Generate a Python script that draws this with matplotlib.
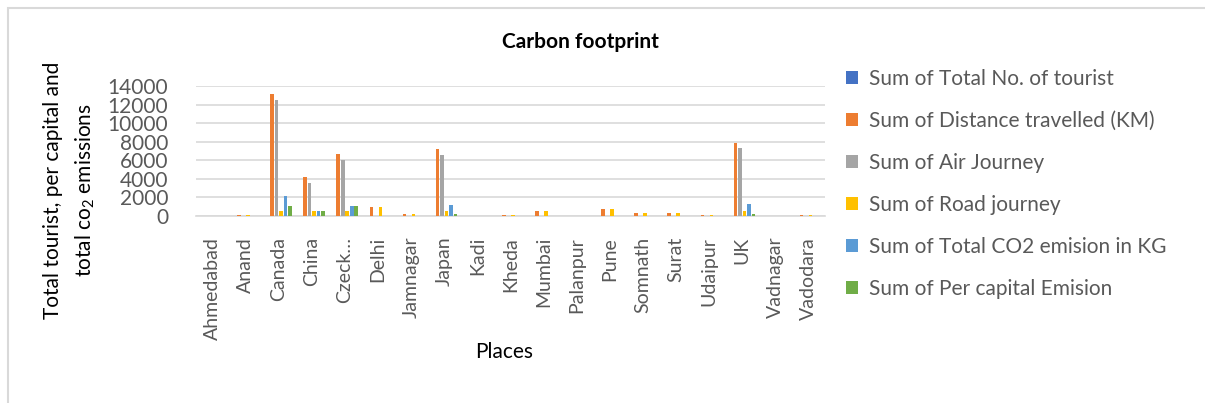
import numpy as np
import matplotlib.pyplot as plt
from matplotlib.patches import Rectangle

plt.rcParams['font.family'] = ['Lato', 'DejaVu Sans']
plt.rcParams['mathtext.fontset'] = 'custom'
plt.rcParams['mathtext.rm'] = 'Lato'
plt.rcParams['mathtext.it'] = 'Lato'

places = ["Ahmedabad", "Anand", "Canada", "China", "Czeck…", "Delhi", "Jamnagar",
          "Japan", "Kadi", "Kheda", "Mumbai", "Palanpur", "Pune", "Somnath",
          "Surat", "Udaipur", "UK", "Vadnagar", "Vadodara"]

tourists = [2, 3, 6, 5, 5, 4, 3, 5, 2, 3, 4, 2, 4, 3, 3, 3, 5, 2, 3]
distance = [20, 80, 13150, 4170, 6650, 930, 250, 7180, 15, 80, 520, 15, 700, 340, 330, 150, 7850, 15, 150]
air = [0, 0, 12500, 3530, 6030, 0, 0, 6540, 0, 0, 0, 0, 0, 0, 0, 0, 7270, 0, 0]
road = [20, 80, 510, 520, 510, 930, 220, 510, 15, 80, 520, 15, 700, 340, 330, 150, 560, 15, 150]
co2 = [0, 0, 2150, 550, 1040, 0, 0, 1150, 0, 0, 0, 0, 0, 0, 0, 0, 1240, 0, 0]
per_capita = [0, 0, 1040, 540, 1040, 0, 0, 180, 0, 0, 0, 0, 0, 0, 0, 0, 250, 0, 0]

series = [
    ("Sum of Total No. of tourist", tourists, "#4472c4"),
    ("Sum of Distance travelled (KM)", distance, "#ed7d31"),
    ("Sum of Air Journey", air, "#a5a5a5"),
    ("Sum of Road journey", road, "#ffc000"),
    ("Sum of Total CO2 emision in KG", co2, "#5b9bd5"),
    ("Sum of Per capital Emision", per_capita, "#70ad47"),
]

fig = plt.figure(figsize=(12.05, 4.03), dpi=100)
ax = fig.add_axes([196 / 1205, 1 - 216 / 403, (825 - 196) / 1205, (216 - 86) / 403])

# outer chart border
fig.patches.append(Rectangle((8 / 1205, -0.05), 1.1, 1 - 8 / 403 + 0.05,
                             transform=fig.transFigure, fill=False,
                             edgecolor="#d9d9d9", linewidth=1.5))

x = np.arange(len(places))
step = 0.136
for i, (name, vals, color) in enumerate(series):
    ax.bar(x + (i - 2.5) * step, vals, width=step * 0.8, color=color, label=name, zorder=3)

ax.set_xlim(-0.5, len(places) - 0.5)
ax.set_ylim(0, 14000)
ax.set_yticks(range(0, 14001, 2000))
ax.yaxis.grid(True, color="#d9d9d9", linewidth=1.2, zorder=0)
for s in ["top", "right", "left"]:
    ax.spines[s].set_visible(False)
ax.spines["bottom"].set_color("#d9d9d9")
ax.spines["bottom"].set_linewidth(1.2)
ax.tick_params(axis="y", length=0, labelsize=15, labelcolor="#595959", pad=20)
ax.tick_params(axis="x", length=0, labelsize=14, labelcolor="#595959", pad=15)
ax.set_xticks(x)
ax.set_xticklabels(places, rotation=90)

ax.set_xlabel("Places", fontsize=15, color="#000000")
ax.xaxis.set_label_coords(0.49, (216 - 342) / 130, transform=ax.transAxes)
fig.text(70 / 1205, 1 - 190 / 403, "Total tourist, per capital and\ntotal co$_2$ emissions",
         rotation=90, ha="center", va="center", fontsize=15, linespacing=1.6)

fig.text(580 / 1205, 1 - 42 / 403, "Carbon footprint", ha="center", va="center",
         fontsize=15, fontweight="bold")

fig.legend(loc="upper left", bbox_to_anchor=(827 / 1205, 1 - 50 / 403), frameon=False,
           fontsize=15, labelcolor="#595959", handlelength=0.6, handleheight=0.6,
           handletextpad=0.5, labelspacing=1.06)

fig.savefig("out.png", dpi=100)
